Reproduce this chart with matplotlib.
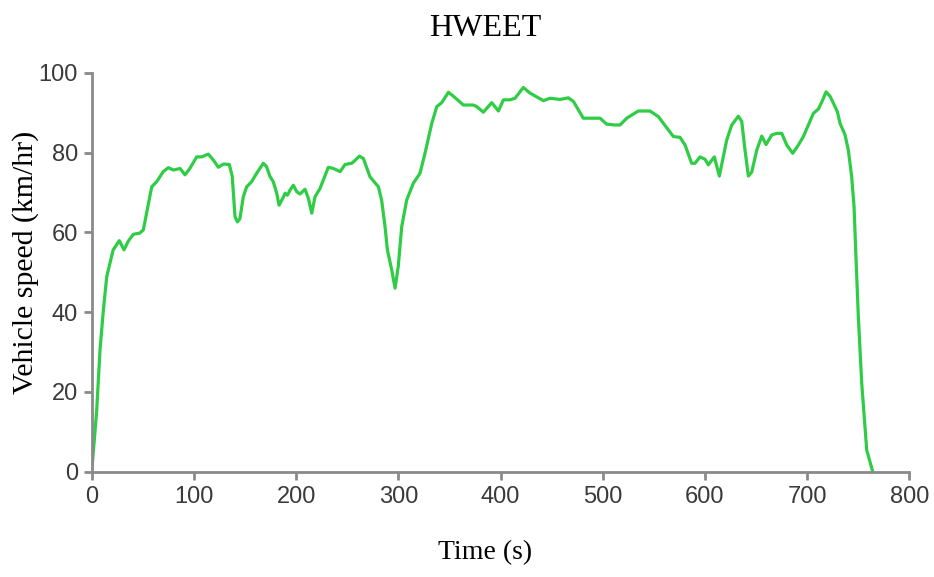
import numpy as np
import matplotlib.pyplot as plt

# HWFET drive cycle, speed trace sampled along the time axis
time_s = [0, 4.9, 8.1, 11.4, 14.7, 21, 27, 31.6, 35.8, 40.7, 47, 50.5, 58.7, 63.6,
          70, 75, 79.9, 86.4, 91.3, 96, 102.7, 107.6, 114.1, 119, 123.9, 128.8,
          134.6, 137.5, 140.2, 142.5, 145, 148.3, 151.6, 156.5, 161.4, 167.9, 171,
          174.4, 177.6, 181, 183.3, 186.9, 189.2, 191.5, 194.1, 197.3, 200.5,
          203.8, 208.7, 212, 215.3, 218.5, 223.4, 231.5, 236.4, 243, 247.9, 254.4,
          257.6, 261.9, 265.8, 272.3, 280.5, 283.7, 287, 289.3, 293.5, 296.8, 300,
          303.3, 308.2, 314.7, 321.2, 326.1, 332.7, 337.6, 342.5, 349, 353.9,
          363.6, 373.4, 376.7, 383.2, 391.4, 397.9, 402.8, 409.3, 414.2, 422.3,
          428.8, 441.9, 448.4, 458.2, 466.4, 471.3, 481, 490.8, 497.4, 503.9,
          512, 516.9, 523.5, 534.8, 546.2, 554.4, 569.1, 575.6, 580.5, 587, 590.3,
          595.2, 600.1, 603.3, 609.2, 614.1, 621.3, 626.2, 632.7, 636, 639.2,
          642.5, 645.8, 650.7, 655.6, 659.8, 665.4, 670.3, 675.2, 680, 685.9,
          691.5, 696.3, 701.2, 706.1, 711, 715.3, 718.5, 722.4, 727.3, 729.6,
          732.2, 737.1, 740.3, 743.6, 745.9, 747.5, 750.1, 753.4, 758.3, 764.2]
speed_kmh = [0, 15.5, 30.5, 40.5, 48.9, 55.6, 57.9, 55.6, 57.8, 59.5, 59.8, 60.6, 71.4, 72.7,
             75.2, 76.2, 75.6, 76, 74.4, 76, 78.9, 78.9, 79.6, 78.1, 76.3, 77.1,
             77, 74, 63.9, 62.6, 63.4, 68.9, 71.4, 72.7, 74.8, 77.3, 76.5,
             74, 72.7, 69.8, 66.8, 68.5, 69.8, 69.3, 70.6, 71.8, 70.2,
             69.6, 70.8, 68.5, 64.8, 68.9, 71, 76.3, 76, 75.2, 77, 77.3,
             78, 79.1, 78.5, 73.9, 71.4, 68, 61.4, 55.6, 50.6, 46, 51.6,
             61.4, 68.1, 72.3, 74.8, 79.8, 87.3, 91.5, 92.5, 95.1, 94.1,
             91.9, 91.9, 91.5, 90.1, 92.5, 90.4, 93.2, 93.2, 93.6, 96.3,
             94.9, 93, 93.6, 93.3, 93.7, 92.8, 88.6, 88.6, 88.6, 87.1,
             86.9, 86.9, 88.6, 90.4, 90.4, 89, 84, 83.8, 81.9, 77.3, 77.3,
             78.9, 78.3, 76.9, 78.9, 74.1, 83.1, 86.9, 89.1, 87.8, 80.6,
             74.1, 75.1, 80.6, 84.1, 82, 84.4, 84.8, 84.8, 81.9, 79.8,
             81.9, 84, 86.9, 89.8, 90.9, 93.2, 95.2, 94.1, 91.5, 90.2,
             87.3, 84.4, 80.6, 73.9, 66.4, 55.6, 38.8, 22.2, 5.4, 0]

x_ticks = [0, 100, 200, 300, 400, 500, 600, 700, 800]
y_ticks = [0, 20, 40, 60, 80, 100]

fig = plt.figure(figsize=(9.34, 5.77), dpi=100)
ax = fig.add_axes([0.0982, 0.1825, 0.8754, 0.6915])

ax.plot(time_s, speed_kmh, color='#2fcc45', linewidth=2.3, solid_joinstyle='round')

ax.set_xlim(0, 800)
ax.set_ylim(0, 100)
ax.set_xticks(x_ticks)
ax.set_yticks(y_ticks)

# only left and bottom axis lines, in grey
for side in ['top', 'right']:
    ax.spines[side].set_visible(False)
for side in ['left', 'bottom']:
    ax.spines[side].set_color('#8a8a8a')
    ax.spines[side].set_linewidth(2)
ax.tick_params(direction='out', length=6, width=2, color='#8a8a8a',
               labelcolor='#3a3a3a', labelsize=17, pad=4)
for lbl in ax.get_xticklabels() + ax.get_yticklabels():
    lbl.set_fontfamily('Liberation Sans')

serif = 'Liberation Serif'
fig.text(485 / 934, 1 - 29 / 577, 'HWEET', family=serif, fontsize=23,
         ha='center', va='center')
fig.text(26 / 934, 1 - 262 / 577, 'Vehicle speed (km/hr)', family=serif,
         fontsize=21.5, rotation=90, ha='center', va='center')
fig.text(485 / 934, 1 - 553 / 577, 'Time (s)', family=serif, fontsize=20,
         ha='center', va='center')

fig.savefig('out.png', dpi=100)
